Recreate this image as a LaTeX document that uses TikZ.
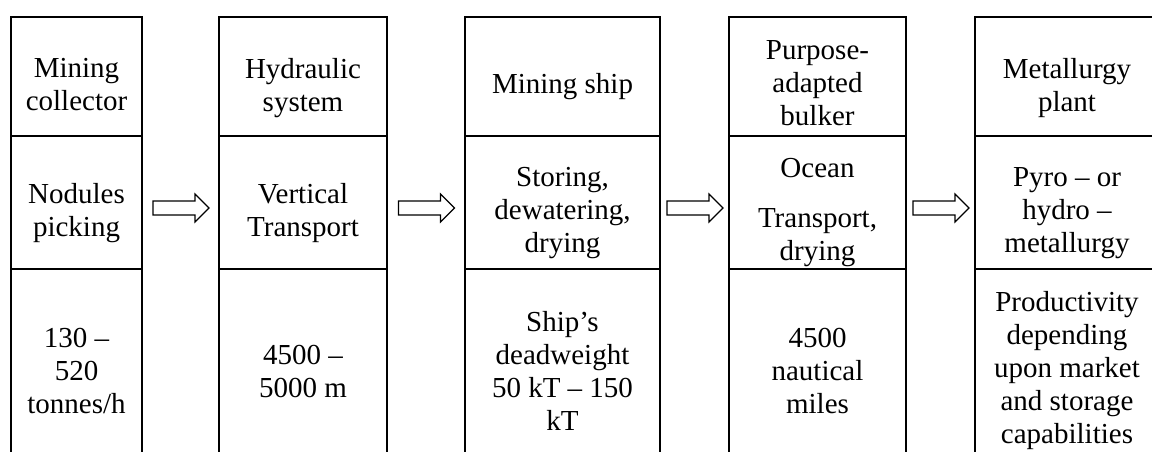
\documentclass[tikz,border=0pt]{standalone}
\usepackage{fontspec}
\setmainfont{Liberation Serif}
\usetikzlibrary{calc}
\begin{document}
\begin{tikzpicture}[x=0.5pt,y=-0.5pt,
  cell/.style={draw, line width=1pt, rectangle, inner sep=0pt, anchor=north west},
  txt/.style={align=center, inner sep=0pt, font=\fontsize{14.5pt}{16.5pt}\selectfont},
  flow/.style={draw, line width=0.6pt, fill=white, line join=miter}]
\useasboundingbox (0,0) rectangle (1152,451);
\clip (0,0) rectangle (1152,451);
% column 1
\node[cell, minimum width=65.5pt, minimum height=59.5pt] (c1a) at (10,16) {};
\node[cell, minimum width=65.5pt, minimum height=66.5pt] (c1b) at (10,135) {};
\node[cell, minimum width=65.5pt, minimum height=102pt] (c1c) at (10,268) {};
% column 2
\node[cell, minimum width=84pt, minimum height=59.5pt] (c2a) at (218,16) {};
\node[cell, minimum width=84pt, minimum height=66.5pt] (c2b) at (218,135) {};
\node[cell, minimum width=84pt, minimum height=102pt] (c2c) at (218,268) {};
% column 3
\node[cell, minimum width=97.5pt, minimum height=59.5pt] (c3a) at (464,16) {};
\node[cell, minimum width=97.5pt, minimum height=66.5pt] (c3b) at (464,135) {};
\node[cell, minimum width=97.5pt, minimum height=102pt] (c3c) at (464,268) {};
% column 4
\node[cell, minimum width=88.5pt, minimum height=59.5pt] (c4a) at (728,16) {};
\node[cell, minimum width=88.5pt, minimum height=66.5pt] (c4b) at (728,135) {};
\node[cell, minimum width=88.5pt, minimum height=102pt] (c4c) at (728,268) {};
% column 5
\node[cell, minimum width=92pt, minimum height=59.5pt] (c5a) at (974,16) {};
\node[cell, minimum width=92pt, minimum height=66.5pt] (c5b) at (974,135) {};
\node[cell, minimum width=92pt, minimum height=102pt] (c5c) at (974,268) {};
% texts
\node[txt] (t1a) at ([yshift=-4.25pt]c1a.center) {Mining\\collector};
\node[txt] (t1b) at ([yshift=-5.25pt]c1b.center) {Nodules\\picking};
\node[txt] (t1c) at (c1c.center) {130 –\\520\\tonnes/h};
\node[txt] (t2a) at ([yshift=-5.75pt]c2a.center) {Hydraulic\\system};
\node[txt] (t2b) at ([yshift=-5.25pt]c2b.center) {Vertical\\Transport};
\node[txt] (t2c) at (c2c.center) {4500 –\\5000 m};
\node[txt] (t3a) at ([yshift=-5.25pt]c3a.center) {Mining ship};
\node[txt] (t3b) at ([yshift=-5.25pt]c3b.center) {Storing,\\dewatering,\\drying};
\node[txt] (t3c) at (c3c.center) {Ship’s\\deadweight\\50 kT – 150\\kT};
\node[txt] (t4a) at ([yshift=-3.5pt]c4a.center) {Purpose-\\adapted\\bulker};
\node[txt] (t4b) at ([yshift=-5pt]c4b.center) {Ocean\\[8.5pt]Transport,\\drying};
\node[txt] (t4c) at (c4c.center) {4500\\nautical\\miles};
\node[txt] (t5a) at ([yshift=-5.75pt]c5a.center) {Metallurgy\\plant};
\node[txt] (t5b) at ([yshift=-5.25pt]c5b.center) {Pyro – or\\hydro –\\metallurgy};
\node[txt] (t5c) at (c5c.center) {Productivity\\depending\\upon market\\and storage\\capabilities};
% block arrows between columns
\foreach \a/\b in {c1b/c2b, c2b/c3b, c3b/c4b, c4b/c5b}{
  \draw[flow] ($(\a.east)!0.5!(\b.west)$) ++(-27.5,-1.5) -- ++(42,0) -- ++(0,-7)
    -- ++(14,14) -- ++(-14,14) -- ++(0,-7) -- ++(-42,0) -- cycle;
}
\end{tikzpicture}
\end{document}
